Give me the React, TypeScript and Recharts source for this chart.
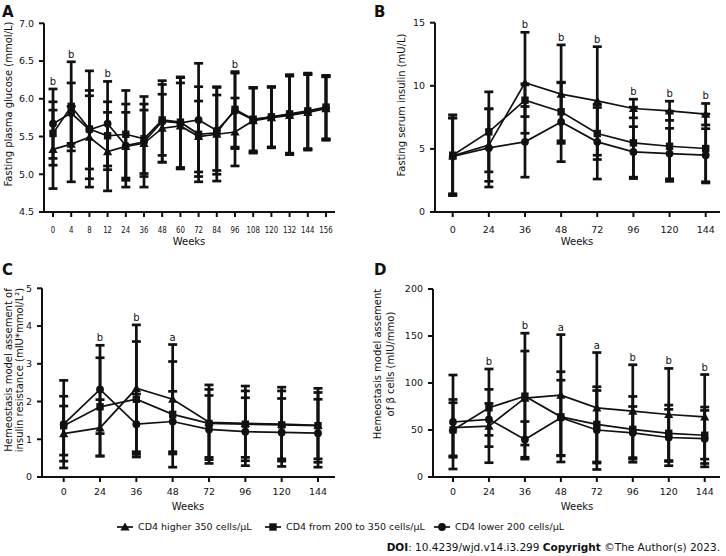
import React from 'react';
import { LineChart, Line, XAxis, YAxis, ErrorBar, LabelList } from 'recharts';

const FONT = '"DejaVu Sans", Verdana, sans-serif';
const INK = '#111';

// ---------- Panel A: fasting plasma glucose ----------
const weeksA = ['0', '4', '8', '12', '24', '36', '48', '60', '72', '84', '96', '108', '120', '132', '144', '156'];
const glucHigh = [5.33, 5.40, 5.49, 5.30, 5.37, 5.41, 5.61, 5.64, 5.50, 5.53, 5.56, 5.71, 5.75, 5.78, 5.82, 5.87];
const glucHighSd = [0.52, 0.50, 0.55, 0.52, 0.45, 0.44, 0.45, 0.57, 0.47, 0.62, 0.45, 0.43, 0.40, 0.52, 0.50, 0.42];
const glucMid = [5.54, 5.90, 5.60, 5.51, 5.53, 5.47, 5.72, 5.69, 5.53, 5.55, 5.86, 5.73, 5.76, 5.80, 5.84, 5.89];
const glucMidSd = [0.42, 0.59, 0.77, 0.45, 0.58, 0.46, 0.47, 0.60, 0.63, 0.50, 0.50, 0.42, 0.40, 0.52, 0.50, 0.42];
const glucLow = [5.67, 5.81, 5.59, 5.67, 5.38, 5.43, 5.70, 5.68, 5.72, 5.58, 5.84, 5.72, 5.76, 5.79, 5.83, 5.88];
const glucLowSd = [0.46, 0.40, 0.52, 0.56, 0.55, 0.60, 0.54, 0.60, 0.75, 0.58, 0.50, 0.43, 0.40, 0.52, 0.50, 0.42];
const sigA = ['b', 'b', '', 'b', '', '', '', '', '', '', 'b', '', '', '', '', ''];
const ticksA = [4.5, 5.0, 5.5, 6.0, 6.5, 7.0];

// ---------- Panels B-D share weeks ----------
const weeks = ['0', '24', '36', '48', '72', '96', '120', '144'];

// Panel B: fasting serum insulin
const insHigh = [4.45, 5.30, 10.24, 9.34, 8.80, 8.20, 8.02, 7.75];
const insHighSd = [3.0, 2.87, 4.0, 3.9, 4.3, 0.74, 0.76, 0.85];
const insMid = [4.50, 6.35, 8.86, 7.94, 6.22, 5.48, 5.21, 5.03];
const insMidSd = [3.2, 3.17, 1.3, 2.3, 2.06, 2.83, 2.78, 2.73];
const insLow = [4.40, 5.08, 5.56, 7.14, 5.56, 4.76, 4.63, 4.50];
const insLowSd = [3.05, 3.1, 2.8, 3.15, 2.95, 2.0, 2.0, 2.1];
const sigB = ['', '', 'b', 'b', 'b', 'b', 'b', 'b'];
const ticksB = [0, 5, 10, 15];

// Panel C: HOMA-IR
const irHigh = [1.15, 1.30, 2.35, 2.06, 1.45, 1.42, 1.40, 1.37];
const irHighSd = [0.73, 0.75, 1.68, 1.45, 0.99, 0.99, 0.98, 0.98];
const irMid = [1.36, 1.86, 2.06, 1.66, 1.42, 1.40, 1.38, 1.36];
const irMidSd = [0.78, 1.30, 1.53, 1.40, 0.90, 0.88, 0.90, 0.88];
const irLow = [1.40, 2.32, 1.40, 1.47, 1.26, 1.20, 1.18, 1.16];
const irLowSd = [1.16, 1.17, 0.80, 0.80, 0.90, 0.90, 0.90, 0.90];
const sigC = ['', 'b', 'b', 'a', '', '', '', ''];
const ticksC = [0, 1, 2, 3, 4, 5];

// Panel D: HOMA-beta
const betaHigh = [52.5, 54.2, 84, 87, 73.6, 70, 66.5, 64];
const betaHighSd = [30, 39, 50, 64.5, 58.8, 49.4, 49, 45];
const betaMid = [50, 73.6, 86, 64, 56, 50.7, 46.5, 44.4];
const betaMidSd = [29, 41.3, 67, 48, 40, 35, 30, 30];
const betaLow = [58.5, 61.3, 40, 63, 50, 47, 42, 40.8];
const betaLowSd = [50, 17, 19, 40, 42, 28, 30, 30];
const sigD = ['', 'b', 'b', 'a', 'a', 'b', 'b', 'b'];
const ticksD = [0, 50, 100, 150, 200];

const legendLabels = ['CD4 higher 350 cells/\u03bcL', 'CD4 from 200 to 350 cells/\u03bcL', 'CD4 lower 200 cells/\u03bcL'];

type Row = Record<string, any>;

function buildRows(
  w: string[], hi: number[], hiSd: number[], mid: number[], midSd: number[],
  lo: number[], loSd: number[], sig: string[]
): Row[] {
  return w.map((week, i) => ({
    week,
    hi: hi[i], hiErr: hiSd[i],
    mid: mid[i], midErr: midSd[i],
    lo: lo[i], loErr: loSd[i],
    top: sig[i] ? Math.max(hi[i] + hiSd[i], mid[i] + midSd[i], lo[i] + loSd[i]) : null,
    sig: sig[i] || null,
  }));
}

const rowsA = buildRows(weeksA, glucHigh, glucHighSd, glucMid, glucMidSd, glucLow, glucLowSd, sigA);
const rowsB = buildRows(weeks, insHigh, insHighSd, insMid, insMidSd, insLow, insLowSd, sigB);
const rowsC = buildRows(weeks, irHigh, irHighSd, irMid, irMidSd, irLow, irLowSd, sigC);
const rowsD = buildRows(weeks, betaHigh, betaHighSd, betaMid, betaMidSd, betaLow, betaLowSd, sigD);

// ---------- marker shapes ----------
const triShape = (cx: number, cy: number, key?: string) => (
  <polygon key={key} points={`${cx},${cy - 4.6} ${cx - 4.6},${cy + 3.6} ${cx + 4.6},${cy + 3.6}`} fill={INK} />
);
const sqShape = (cx: number, cy: number, key?: string) => (
  <rect key={key} x={cx - 3.7} y={cy - 3.7} width={7.4} height={7.4} fill={INK} />
);
const circShape = (cx: number, cy: number, key?: string) => (
  <circle key={key} cx={cx} cy={cy} r={3.9} fill={INK} />
);

const makeDot = (shape: typeof triShape, tag: string) => (p: any) => {
  if (p.cx == null || p.cy == null || p.value == null) return <g key={`${tag}-e-${p.index}`} />;
  return shape(p.cx, p.cy, `${tag}-${p.index}`);
};

const XTick = (props: any) => {
  const { x, y, payload, sx } = props;
  return (
    <g transform={`translate(${x},${y})`}>
      <text transform={`scale(${sx},1)`} textAnchor="middle" dy="0.71em" fontSize={9.5} fontFamily={FONT} fill={INK}>
        {payload.value}
      </text>
    </g>
  );
};

type PanelProps = {
  rows: Row[];
  left: number; top: number;
  yWidth: number; mt: number; mr: number;
  padL: number; padR: number;
  domain: [number, number]; ticks: number[];
  fmt: (v: number) => string;
  sx: number; xTickMargin: number;
};

function Panel(p: PanelProps) {
  const errProps = { width: 4.5, strokeWidth: 2.7, stroke: INK, direction: 'y' as const, isAnimationActive: false };
  const lineProps = { type: 'linear' as const, stroke: INK, strokeWidth: 1.7, isAnimationActive: false, activeDot: false as const };
  return (
    <div style={{ position: 'absolute', left: p.left, top: p.top, width: 363, height: 260 }}>
      <LineChart width={363} height={260} data={p.rows} margin={{ top: p.mt, right: p.mr, bottom: 0, left: 0 }}>
        <XAxis
          dataKey="week"
          scale="point"
          padding={{ left: p.padL, right: p.padR }}
          height={48}
          interval={0}
          tickSize={5}
          tickMargin={p.xTickMargin}
          axisLine={{ stroke: INK, strokeWidth: 2 }}
          tickLine={{ stroke: INK, strokeWidth: 2 }}
          tick={(tp: any) => <XTick {...tp} sx={p.sx} />}
        />
        <YAxis
          type="number"
          width={p.yWidth}
          domain={p.domain}
          ticks={p.ticks}
          interval={0}
          allowDataOverflow
          tickSize={5}
          tickMargin={5}
          tickFormatter={p.fmt}
          axisLine={{ stroke: INK, strokeWidth: 2 }}
          tickLine={{ stroke: INK, strokeWidth: 2 }}
          tick={{ fontSize: 9.5, fill: INK, fontFamily: FONT }}
        />
        <Line dataKey="lo" {...lineProps} dot={makeDot(circShape, 'c')}>
          <ErrorBar dataKey="loErr" {...errProps} />
        </Line>
        <Line dataKey="mid" {...lineProps} dot={makeDot(sqShape, 's')}>
          <ErrorBar dataKey="midErr" {...errProps} />
        </Line>
        <Line dataKey="hi" {...lineProps} dot={makeDot(triShape, 't')}>
          <ErrorBar dataKey="hiErr" {...errProps} />
        </Line>
        <Line dataKey="top" stroke="none" dot={false} activeDot={false} legendType="none" isAnimationActive={false}>
          <LabelList dataKey="sig" position="top" offset={4} fontSize={10} fill={INK} fontFamily={FONT} />
        </Line>
      </LineChart>
    </div>
  );
}

const rotLabel = (x: number, y: number, text: string) => (
  <text
    x={x} y={y}
    transform={`rotate(-90 ${x} ${y})`}
    textAnchor="middle"
    dominantBaseline="central"
    fontSize={10}
    fontFamily={FONT}
    fill={INK}
  >
    {text}
  </text>
);

export default function App() {
  const legendItems = [
    { cx: 125, tx: 138, shape: triShape },
    { cx: 273, tx: 286, shape: sqShape },
    { cx: 442, tx: 455, shape: circShape },
  ];
  return (
    <div style={{ position: 'absolute', left: 0, top: 0, width: 726, height: 556, background: '#fff', overflow: 'hidden', fontFamily: FONT }}>
      <Panel rows={rowsA} left={0} top={0} yWidth={44} mt={23.3} mr={28} padL={9} padR={9}
        domain={[4.5, 7]} ticks={ticksA} fmt={(v) => v.toFixed(1)} sx={0.74} xTickMargin={8.8} />
      <Panel rows={rowsB} left={363} top={0} yWidth={72} mt={22.7} mr={6} padL={17.7} padR={14.3}
        domain={[0, 15]} ticks={ticksB} fmt={(v) => String(v)} sx={1} xTickMargin={8.8} />
      <Panel rows={rowsC} left={0} top={265} yWidth={42} mt={23.3} mr={28} padL={21.7} padR={17}
        domain={[0, 5]} ticks={ticksC} fmt={(v) => String(v)} sx={1} xTickMargin={5.8} />
      <Panel rows={rowsD} left={363} top={265} yWidth={70} mt={24} mr={6} padL={20} padR={15.3}
        domain={[0, 200]} ticks={ticksD} fmt={(v) => String(v)} sx={1} xTickMargin={5.8} />

      <svg width={726} height={556} style={{ position: 'absolute', left: 0, top: 0, pointerEvents: 'none' }}>
        <g fontFamily={FONT} fontWeight="bold" fontSize={15} fill={INK}>
          <text x={2} y={16.5}>A</text>
          <text x={374} y={16.5}>B</text>
          <text x={2} y={275}>C</text>
          <text x={374} y={275}>D</text>
        </g>

        {rotLabel(8.5, 104, 'Fasting plasma glucose (mmol/L)')}
        {rotLabel(401, 105, 'Fasting serum insulin (mU/L)')}
        {rotLabel(8, 370, 'Hemeostasis model assement of')}
        {rotLabel(19.5, 370, 'insulin resistance (mIU*mmol/L\u00b2)')}
        {rotLabel(377, 364, 'Hemeostasis model assement')}
        {rotLabel(390, 364, 'of \u03b2 cells (mIU/mmo)')}

        <g fontFamily={FONT} fontSize={10} fill={INK} textAnchor="middle">
          <text x={189} y={244.5}>Weeks</text>
          <text x={577} y={244.5}>Weeks</text>
          <text x={188} y={509.5}>Weeks</text>
          <text x={577} y={509.5}>Weeks</text>
        </g>

        {legendItems.map((it, i) => (
          <g key={`lg-${i}`}>
            <line x1={it.cx - 8} x2={it.cx + 8} y1={527} y2={527} stroke={INK} strokeWidth={1.7} />
            {it.shape(it.cx, 527)}
            <text x={it.tx} y={530.4} fontSize={9.5} fontFamily={FONT} fill={INK}>{legendLabels[i]}</text>
          </g>
        ))}

        <text x={720} y={551} textAnchor="end" fontSize={10.5} fontFamily={FONT} fill={INK}>
          <tspan fontWeight="bold">DOI</tspan>
          <tspan>: 10.4239/wjd.v14.i3.299 </tspan>
          <tspan fontWeight="bold">Copyright</tspan>
          <tspan> {'\u00a9'}The Author(s) 2023.</tspan>
        </text>
      </svg>
    </div>
  );
}
